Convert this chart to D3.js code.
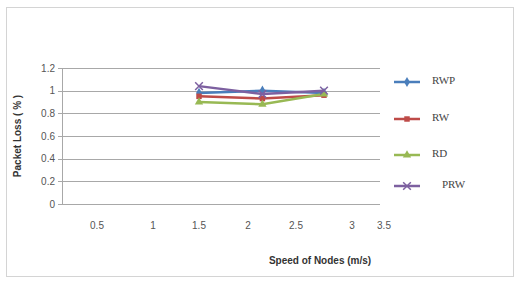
<!DOCTYPE html>
<html>
<head>
<meta charset="utf-8">
<script src="https://cdn.jsdelivr.net/npm/d3@7"></script>
<style>
  body { margin: 0; background: #fff; }
  svg text { font-family: "Liberation Sans", Arial, sans-serif; }
</style>
</head>
<body>
<div id="app"></div>
<script>
// data
const speeds = [1.5, 2.15, 2.75];
const xTicks = [0.5, 1, 1.5, 2, 2.5, 3, 3.5];
const yTicks = [0, 0.2, 0.4, 0.6, 0.8, 1, 1.2];
const seriesNames = ["RWP", "RW", "RD", "PRW"];
const rwp = [0.98, 1.0, 0.98];
const rw = [0.95, 0.93, 0.96];
const rd = [0.9, 0.88, 0.97];
const prw = [1.04, 0.97, 1.0];
const colors = ["#4a7ebb", "#be4b48", "#98b954", "#7d60a0"];

const width = 517, height = 281;
const values = [rwp, rw, rd, prw];

const svg = d3.select("#app").append("svg")
    .attr("width", width)
    .attr("height", height);

// outer frame
svg.append("rect")
    .attr("x", 6.5).attr("y", 7.5)
    .attr("width", 507).attr("height", 269)
    .attr("fill", "#fff")
    .attr("stroke", "#d4d4d4");

// the tick labels on the x axis are not evenly spaced in the source
const x = d3.scaleLinear()
    .domain(xTicks)
    .range([97, 153, 199, 248, 296, 352, 384]);

const y = d3.scaleLinear()
    .domain([0, 1.2])
    .range([204, 68]);

const plotLeft = 62, plotRight = 380;

const grid = svg.append("g");
grid.selectAll("line")
    .data(yTicks)
    .join("line")
    .attr("x1", plotLeft).attr("x2", plotRight)
    .attr("y1", d => Math.round(y(d)) + 0.5)
    .attr("y2", d => Math.round(y(d)) + 0.5)
    .attr("stroke", "#a8a8a8")
    .attr("stroke-width", 1);

grid.append("line")
    .attr("x1", plotLeft + 0.5).attr("x2", plotLeft + 0.5)
    .attr("y1", y(1.2)).attr("y2", y(0))
    .attr("stroke", "#a8a8a8");

grid.selectAll(".ytick")
    .data(yTicks)
    .join("line")
    .attr("class", "ytick")
    .attr("x1", plotLeft - 4).attr("x2", plotLeft)
    .attr("y1", d => Math.round(y(d)) + 0.5)
    .attr("y2", d => Math.round(y(d)) + 0.5)
    .attr("stroke", "#a8a8a8");

svg.append("g").selectAll("text")
    .data(yTicks)
    .join("text")
    .attr("x", plotLeft - 7)
    .attr("y", d => y(d))
    .attr("dy", "0.35em")
    .attr("text-anchor", "end")
    .attr("font-size", 10)
    .attr("fill", "#555")
    .text(d => d);

svg.append("g").selectAll("text")
    .data(xTicks)
    .join("text")
    .attr("x", d => x(d))
    .attr("y", 229)
    .attr("text-anchor", "middle")
    .attr("font-size", 10)
    .attr("fill", "#555")
    .text(d => d);

// axis titles
svg.append("text")
    .attr("transform", "translate(21,136) rotate(-90)")
    .attr("text-anchor", "middle")
    .attr("font-size", 10)
    .attr("font-weight", "bold")
    .attr("fill", "#333")
    .text("Packet Loss ( % )");

svg.append("text")
    .attr("x", 320)
    .attr("y", 264)
    .attr("text-anchor", "middle")
    .attr("font-size", 10)
    .attr("font-weight", "bold")
    .attr("fill", "#333")
    .text("Speed of Nodes (m/s)");

// lines
const line = d3.line()
    .x((d, i) => x(speeds[i]))
    .y(d => y(d));

const symbols = [d3.symbolDiamond, d3.symbolSquare, d3.symbolTriangle, d3.symbolCross];

const marker = (g, k, cx, cy) => {
    if (k === 3) {
        g.append("path")
            .attr("d", d3.symbol(d3.symbolX, 40)())
            .attr("transform", `translate(${cx},${cy})`)
            .attr("fill", "none")
            .attr("stroke", colors[k])
            .attr("stroke-width", 1.5);
    } else {
        g.append("path")
            .attr("d", d3.symbol(symbols[k], 30)())
            .attr("transform", `translate(${cx},${cy})`)
            .attr("fill", colors[k]);
    }
};

values.forEach((vals, k) => {
    const g = svg.append("g");
    g.append("path")
        .datum(vals)
        .attr("d", line)
        .attr("fill", "none")
        .attr("stroke", colors[k])
        .attr("stroke-width", 2.5);
    vals.forEach((v, i) => marker(g, k, x(speeds[i]), y(v)));
});

// legend
const legendY = [80, 117, 153, 184];
const legendTextX = [432, 432, 432, 442];
seriesNames.forEach((name, k) => {
    const g = svg.append("g");
    g.append("line")
        .attr("x1", 394).attr("x2", 420)
        .attr("y1", legendY[k] + 2).attr("y2", legendY[k] + 2)
        .attr("stroke", colors[k])
        .attr("stroke-width", 2.5);
    marker(g, k, 407, legendY[k] + 2);
    g.append("text")
        .attr("x", legendTextX[k])
        .attr("y", legendY[k])
        .attr("dy", "0.35em")
        .attr("font-family", "Liberation Serif, serif")
        .style("font-family", "'Liberation Serif', serif")
        .attr("font-size", 11)
        .attr("fill", "#444")
        .text(name);
});
</script>
</body>
</html>
